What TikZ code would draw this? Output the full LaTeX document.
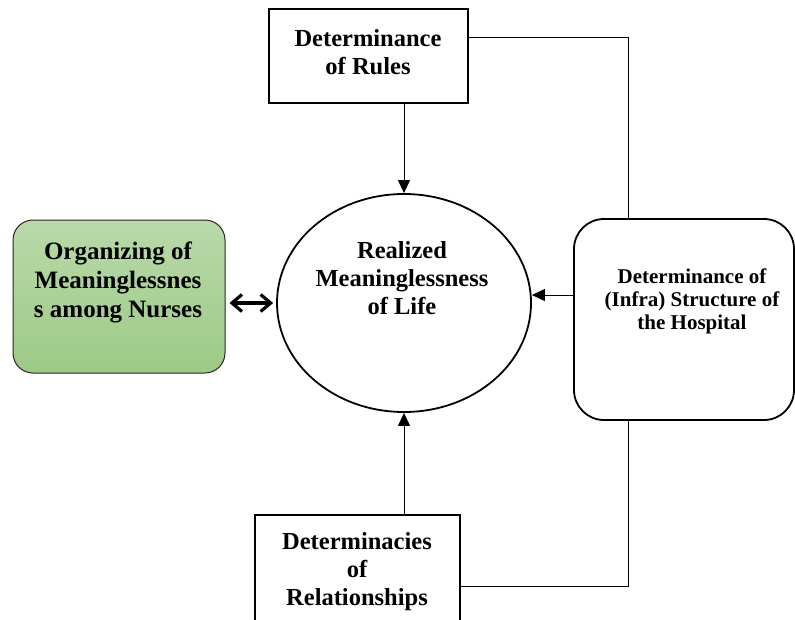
\documentclass[tikz,border=0pt]{standalone}
\usepackage{fontspec}
\setmainfont{Liberation Serif}
\usetikzlibrary{shapes.geometric,arrows.meta}
\definecolor{gtop}{HTML}{B9D9AA}
\definecolor{gbot}{HTML}{9DCA86}
\begin{document}
\begin{tikzpicture}[x=1pt,y=-1pt,
  boxstyle/.style={draw, line width=1.8pt, inner sep=0pt},
  txt/.style={align=center, font=\bfseries\fontsize{24.5}{28}\selectfont, inner sep=0pt},
  conn/.style={line width=0.9pt},
  arr/.style={conn, -{Triangle[length=13pt,width=12pt]}},
  dblarr/.style={line width=3.2pt, arrows={Straight Barb[length=10pt,width=17pt]-Straight Barb[length=10pt,width=17pt]}}]
\clip (0,0) rectangle (795,619);
\fill[white] (0,0) rectangle (795,619);
% nodes
\node[boxstyle, minimum width=199pt, minimum height=94pt] (tb) at (368.5,56) {};
\node[txt] (tbt) at (368,52) {Determinance\\of Rules};
\node[draw=black!85, line width=1pt, rounded corners=20pt, top color=gtop, bottom color=gbot,
      minimum width=212pt, minimum height=153pt, inner sep=0pt] (gb) at (119,296.5) {};
\node[txt, font=\bfseries\fontsize{25}{29}\selectfont] (gbt) at (118,282) {Organizing of\\Meaninglessnes\\s among Nurses};
\node[ellipse, draw, line width=1.8pt, minimum width=254pt, minimum height=218pt, inner sep=0pt] (el) at (404,303) {};
\node[txt] (elt) at (402,278.5) {Realized\\Meaninglessness\\of Life};
\node[boxstyle, rounded corners=30pt, minimum width=220pt, minimum height=201pt] (rb) at (684,319.5) {};
\node[txt, font=\bfseries\fontsize{21}{23}\selectfont] (rbt) at (692,301.5) {Determinance of\\(Infra) Structure of\\the Hospital};
\node[boxstyle, minimum width=205pt, minimum height=120pt] (bb) at (357.5,575) {};
\node[txt] (bbt) at (357,572) {Determinacies\\of\\Relationships};
% connectors
\coordinate (tbr) at (468,37);
\coordinate (rbtop) at (628,219);
\coordinate (rbbot) at (628,420);
\coordinate (bbr) at (460,586);
\coordinate (ra) at (574,295);
\draw[arr] (tb.south -| el.north) -- (el.north);
\draw[arr] (bb.north -| el.south) -- (el.south);
\draw[arr] (ra) -- (ra -| el.east);
\draw[conn] (tbr) -| (rbtop);
\draw[conn] (rbbot) |- (bbr);
\draw[dblarr] ([xshift=4pt]gb.east |- el.west) -- ([xshift=-3pt]el.west);
\end{tikzpicture}
\end{document}
